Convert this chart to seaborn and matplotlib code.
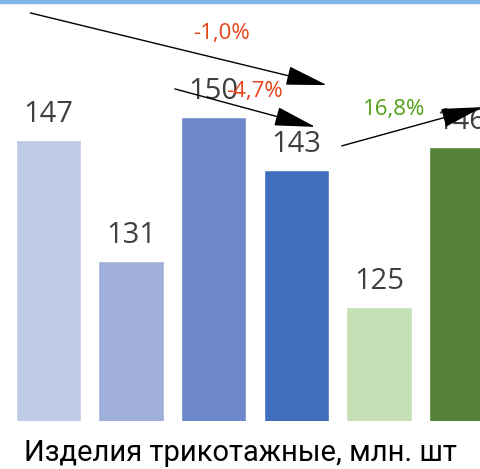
import numpy as np
import pandas as pd
import seaborn as sns
import matplotlib.pyplot as plt

# Values
periods = ['p1', 'p2', 'p3', 'p4', 'p5', 'p6']
values = [147, 131, 150, 143, 125, 146]
bar_colors = ['#BFCAE6', '#9FAFDA', '#6E89CB', '#3F6EBE', '#C5E0B4', '#538135']

# change arrows: (x0, y0, x1, y1) in data units, label, label position, colour
arrow_start_x = [-0.22, 1.53, 3.55]
arrow_start_y = [163.7, 153.7, 146.2]
arrow_end_x = [3.37, 3.23, 5.25]
arrow_end_y = [154.2, 148.7, 151.3]
change_labels = ['-1,0%', '-4,7%', '16,8%']
change_label_x = [2.10, 2.49, 4.19]
change_label_y = [161.0, 153.3, 151.0]
change_colors = ['#E8431A', '#E8431A', '#4EA014']

title = 'Изделия трикотажные, млн. шт'

df = pd.DataFrame({'period': periods, 'value': values})

sns.set_style('white')
plt.rcParams['font.family'] = ['Open Sans', 'DejaVu Sans']

fig = plt.figure(figsize=(4.8, 4.69), dpi=100)
ax = fig.add_axes([0, 48 / 469, 1, 421 / 469])

sns.barplot(data=df, x='period', y='value', hue='period', palette=bar_colors,
            width=0.79, legend=False, ax=ax, saturation=1)

ax.set_ylim(110, 165.4)
ax.set_xlim(-0.587, 5.224)
ax.axis('off')

# value labels above bars (the last one runs off the right edge, as in the source)
for i, v in enumerate(values):
    ax.annotate(str(v), (i, v), xytext=(0, 8), textcoords='offset points',
                ha='center', va='bottom', fontsize=21, color='#404040',
                annotation_clip=False)

# arrows with percent change
for i in range(len(change_labels)):
    ax.annotate('', xy=(arrow_end_x[i], arrow_end_y[i]),
                xytext=(arrow_start_x[i], arrow_start_y[i]),
                arrowprops=dict(arrowstyle='-|>,head_length=1.3,head_width=0.3',
                                color='black', lw=1, mutation_scale=20,
                                shrinkA=0, shrinkB=0),
                annotation_clip=False)
    ax.text(change_label_x[i], change_label_y[i], change_labels[i],
            ha='center', va='center', fontsize=16, color=change_colors[i])

# thin blue border strip at the top
fig.patches.append(plt.Rectangle((0, 1 - 3 / 469), 1, 3 / 469, transform=fig.transFigure,
                                 color='#7FB2E5', zorder=5))

fig.text(0.5, 16 / 469, title, ha='center', va='center', fontsize=21,
         color='black', family=['Roboto', 'DejaVu Sans'])

fig.savefig('out.png', dpi=100)
